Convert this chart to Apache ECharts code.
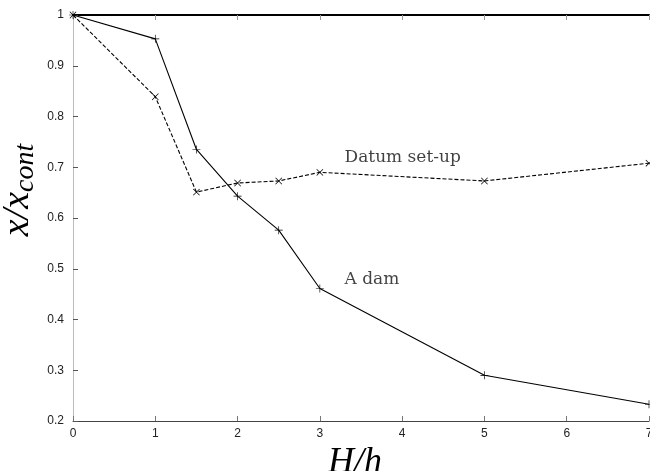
<!DOCTYPE html>
<html>
<head>
<meta charset="utf-8">
<script src="https://cdn.jsdelivr.net/npm/echarts@6/dist/echarts.min.js"></script>
<style>
    html, body { margin: 0; padding: 0; background: #fff; }
    #chart_id { width: 650px; height: 471px; }
</style>
</head>
<body>
<div id="chart_id"></div>
<script>
// H/h values
var ratios = [0, 1, 1.5, 2, 2.5, 3, 5, 7];
// x/x_cont, "A dam" (solid, + markers)
var damValues = [1, 0.953, 0.735, 0.643, 0.576, 0.461, 0.29, 0.233];
// x/x_cont, "Datum set-up" (dashed, x markers)
var datumValues = [1, 0.839, 0.651, 0.669, 0.673, 0.69, 0.673, 0.708];
// curve labels placed in data space
var labelNames = ["Datum set-up", "A dam"];
var labelPoints = [[3.3, 0.72], [3.3, 0.478]];

var plusPath = 'path://M0,4.6h10v0.8h-10z M4.6,0h0.8v10h-0.8z';

function pairs(xs, ys) {
    var out = [];
    for (var i = 0, lens = xs.length; i < lens; i++) {
        out.push([xs[i], ys[i]]);
    }
    return out;
}

var myChart = echarts.init(document.getElementById("chart_id"));
var serif = '"Liberation Serif", "DejaVu Serif", serif';
var labelSerif = '"DejaVu Serif", serif';
var sans = '"Liberation Sans", Arial, sans-serif';

var labelData = [];
for (var i = 0; i < labelNames.length; i++) {
    labelData.push({ value: labelPoints[i], name: labelNames[i] });
}

var option = {
    animation: false,
    backgroundColor: '#fff',
    grid: { left: 73, top: 15, right: 1, bottom: 50, outerBoundsMode: 'none', containLabel: false },
    xAxis: [{
        type: 'value', min: 0, max: 7, interval: 1,
        name: 'H/h', nameLocation: 'middle', nameGap: 14,
        nameTextStyle: { fontFamily: serif, fontStyle: 'italic', fontSize: 36, color: '#000', padding: [0, 12, 0, 0] },
        axisLine: { lineStyle: { color: '#444', width: 1 } },
        axisTick: { inside: true, length: 5, lineStyle: { color: '#777' } },
        axisLabel: { color: '#222', fontFamily: sans, fontSize: 12, margin: 7 },
        splitLine: { show: false }
    }, {
        type: 'value', min: 0, max: 7, interval: 1, position: 'top',
        axisLine: { lineStyle: { color: '#000', width: 2 } },
        axisTick: { inside: true, length: 5, lineStyle: { color: '#999' } },
        axisLabel: { show: false },
        splitLine: { show: false }
    }],
    yAxis: [{
        type: 'value', min: 0.2, max: 1, interval: 0.1,
        name: 'x/x{sub|cont}', nameLocation: 'middle', nameGap: 33, nameMoveOverlap: false,
        nameTextStyle: {
            fontFamily: serif, fontStyle: 'italic', fontSize: 38, color: '#000',
            padding: [0, 0, 0, 56],
            rich: { sub: { fontFamily: serif, fontStyle: 'italic', fontSize: 28, color: '#000', padding: [16, 0, 0, 0] } }
        },
        axisLine: { lineStyle: { color: '#444', width: 1 } },
        axisTick: { inside: true, length: 5, lineStyle: { color: '#555' } },
        axisLabel: { color: '#222', fontFamily: sans, fontSize: 12, margin: 9,
            formatter: function (v) { return String(+v.toFixed(1)); } },
        splitLine: { show: false }
    }, {
        type: 'value', min: 0.2, max: 1, interval: 0.1, position: 'right',
        axisLine: { lineStyle: { color: '#bbb', width: 1 } },
        axisTick: { show: false },
        axisLabel: { show: false },
        splitLine: { show: false }
    }],
    series: [{
        name: 'A dam', type: 'line',
        data: pairs(ratios, damValues),
        symbol: plusPath, symbolSize: 8,
        itemStyle: { color: '#000' },
        lineStyle: { color: '#000', width: 1.1 }
    }, {
        name: 'Datum set-up', type: 'line',
        data: pairs(ratios, datumValues),
        symbol: plusPath, symbolSize: 9, symbolRotate: 45,
        itemStyle: { color: '#000' },
        lineStyle: { color: '#000', width: 1.1, type: [4, 2] }
    }, {
        name: 'labels', type: 'scatter',
        data: labelData, symbolSize: 0,
        label: {
            show: true, position: 'right', distance: 0,
            formatter: '{b}', fontFamily: labelSerif, fontSize: 17, color: '#111'
        }
    }]
};
myChart.setOption(option, true);
</script>
</body>
</html>
